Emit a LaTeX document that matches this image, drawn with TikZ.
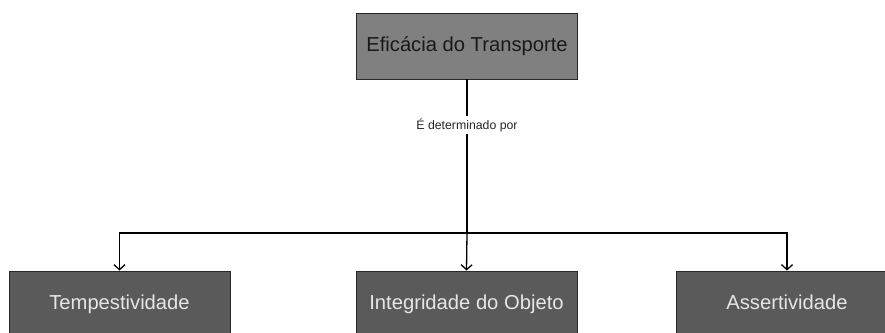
\documentclass[tikz,border=0pt]{standalone}
\usepackage{fontspec}
\setmainfont{Liberation Sans}
\usetikzlibrary{arrows.meta}
\definecolor{topfill}{RGB}{128,128,128}
\definecolor{botfill}{RGB}{90,90,90}
\definecolor{bottext}{RGB}{230,230,230}
\definecolor{toptext}{RGB}{25,25,25}
\definecolor{edge}{RGB}{40,40,40}
\tikzset{
  topbox/.style={draw=edge, line width=0.9pt, fill=topfill, text=toptext,
    minimum width=221pt, minimum height=66pt, inner sep=0pt,
    text height=14.5pt, text depth=4pt,
    font=\fontsize{20.2}{23}\selectfont},
  botbox/.style={draw=edge, line width=0.9pt, fill=botfill, text=bottext,
    minimum width=221pt, minimum height=66pt, inner sep=0pt,
    text height=14.5pt, text depth=4pt,
    font=\fontsize{20.2}{23}\selectfont},
  conn/.style={line width=1.3pt, black, -{Straight Barb[length=5pt,width=11pt]}},
  trunk/.style={line width=2.6pt, black},
  lbl/.style={fill=white, inner sep=2pt, font=\fontsize{12.3}{14}\selectfont, text=black!85}
}
\begin{document}
\begin{tikzpicture}[x=1pt,y=-1pt]
\useasboundingbox (0,0) rectangle (885,332);
\clip (0,0) rectangle (885,332);
\node[topbox] (top) at (467,46) {Eficácia do Transporte};
\node[botbox] (t1) at (119.5,304) {Tempestividade};
\node[botbox] (t2) at (466.5,304) {Integridade do Objeto};
\node[botbox] (t3) at (787,304) {Assertividade};
\coordinate (j) at (467,233);
\draw[trunk] (top.south) -- (j);
\node[lbl] (lab) at (467,125) {É determinado por};
\draw[conn] (j) -| (t1.north);
\draw[conn] (j) -| (t3.north);
\draw[conn] (j) -- (t2.north);
\end{tikzpicture}
\end{document}
